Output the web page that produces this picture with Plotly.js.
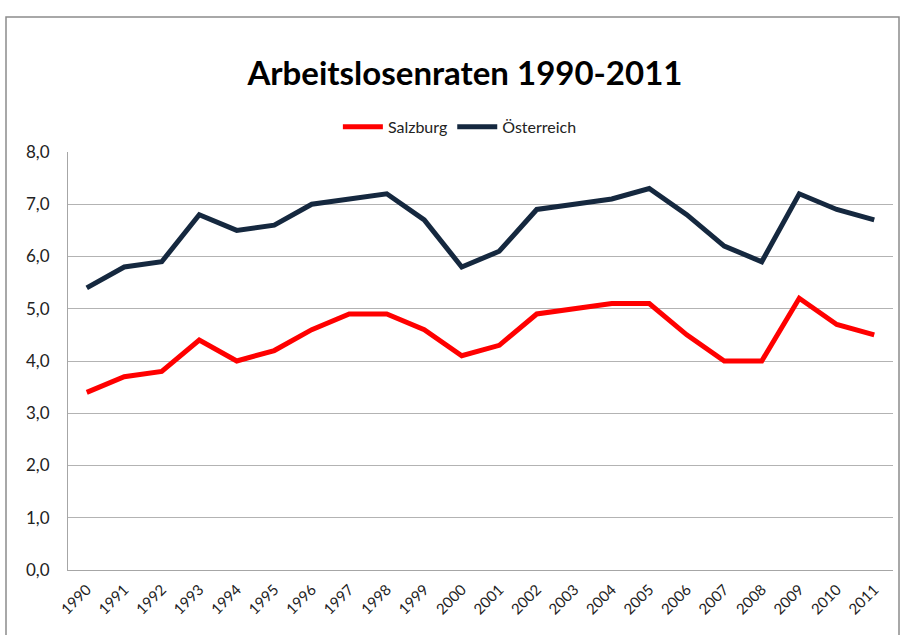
<!DOCTYPE html>
<html>
<head>
<meta charset="utf-8">
<script src="https://cdn.plot.ly/plotly-3.0.1.min.js"></script>
<style>html,body{margin:0;padding:0;background:#fff;}#chart{width:901px;height:635px;}</style>
</head>
<body>
<div id="chart"></div>
<script>
const years = ["1990","1991","1992","1993","1994","1995","1996","1997","1998","1999","2000","2001","2002","2003","2004","2005","2006","2007","2008","2009","2010","2011"];
const salzburg = [3.4,3.7,3.8,4.4,4.0,4.2,4.6,4.9,4.9,4.6,4.1,4.3,4.9,5.0,5.1,5.1,4.5,4.0,4.0,5.2,4.7,4.5];
const oesterreich = [5.4,5.8,5.9,6.8,6.5,6.6,7.0,7.1,7.2,6.7,5.8,6.1,6.9,7.0,7.1,7.3,6.8,6.2,5.9,7.2,6.9,6.7];
const yTicks = [0,1,2,3,4,5,6,7,8];

const fontFam = "Lato, 'Open Sans', sans-serif";
const traces = [
  {x: years, y: salzburg, name: "Salzburg", type: "scatter", mode: "lines",
   line: {color: "#ff0000", width: 5}},
  {x: years, y: oesterreich, name: "Österreich", type: "scatter", mode: "lines",
   line: {color: "#15283f", width: 5}}
];
const layout = {
  width: 901, height: 635,
  margin: {l: 68, r: 8, t: 152, b: 65},
  paper_bgcolor: "#fff", plot_bgcolor: "#fff",
  separators: ", ",
  title: {text: "<b>Arbeitslosenraten 1990-2011</b>", x: 0.516, xanchor: "center", y: 0.885, yanchor: "middle",
          font: {family: fontFam, size: 33, color: "#000"}},
  showlegend: true,
  legend: {orientation: "h", x: 0.475, xanchor: "center", y: 1.06, yanchor: "middle",
           font: {family: fontFam, size: 16, color: "#222"}, itemwidth: 40, tracegroupgap: 0},
  xaxis: {type: "category", tickvals: years, ticktext: years, tickangle: -45,
          range: [-0.5, 21.5], showgrid: false, showline: true, linecolor: "#a6a6a6", linewidth: 1,
          ticks: "", zeroline: false, ticklabelstandoff: 4, tickfont: {family: fontFam, size: 15, color: "#222"}},
  yaxis: {range: [0, 8], tickvals: yTicks, tickformat: ".1f", showgrid: true, gridcolor: "#b3b3b3", gridwidth: 1,
          showline: true, linecolor: "#a6a6a6", linewidth: 1, zeroline: false, ticks: "", ticklen: 0,
          ticklabelstandoff: 14, tickfont: {family: fontFam, size: 17, color: "#222"}},
  shapes: [
    {type: "rect", xref: "paper", yref: "paper", x0: (6-68)/825, x1: (899-68)/825, y0: (570-645)/418, y1: (570-17)/418,
     line: {color: "#8c8c8c", width: 1.5}, fillcolor: "rgba(0,0,0,0)", layer: "below"}
  ]
};
Plotly.newPlot("chart", traces, layout, {displayModeBar: false, staticPlot: true});
</script>
</body>
</html>
